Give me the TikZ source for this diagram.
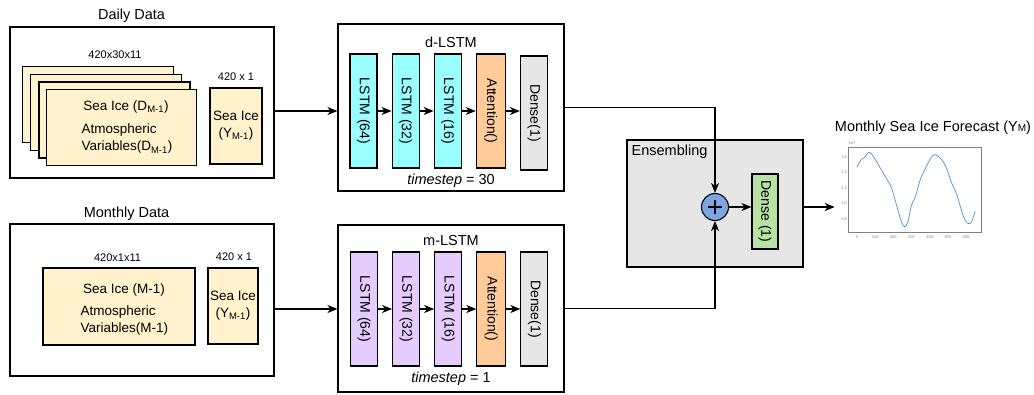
\documentclass[tikz,border=0pt]{standalone}
\usepackage{fontspec}
\setmainfont{Liberation Sans}
\usepackage{xcolor}
\usetikzlibrary{positioning, arrows.meta}

\definecolor{datayellow}{HTML}{FFF2CC}
\definecolor{lstmcyan}{HTML}{99FFFF}
\definecolor{lstmpurple}{HTML}{E5CCFF}
\definecolor{attnorange}{HTML}{FFCC99}
\definecolor{densegrey}{HTML}{E6E6E6}
\definecolor{densegreen}{HTML}{B9E0A5}
\definecolor{plusblue}{HTML}{7EA6E0}
\definecolor{curveblue}{HTML}{4A90D0}

\tikzset{
  frame/.style={draw, line width=1.1pt, inner sep=0pt},
  datbox/.style={draw, fill=datayellow, line width=1.1pt, inner sep=0pt},
  layer/.style={draw, line width=1.1pt, inner sep=0pt, minimum width=27pt, minimum height=114pt, font=\fontsize{14}{16}\selectfont},
  flow/.style={-{Stealth[length=10pt, width=8pt, inset=3pt]}, line width=1.1pt},
  big/.style={font=\fontsize{14.5}{17}\selectfont},
  mid/.style={font=\fontsize{13.5}{17}\selectfont},
  small/.style={font=\fontsize{11}{13}\selectfont},
  tick/.style={font=\fontsize{4}{4}\selectfont, text=gray, inner sep=0.5pt},
}

\begin{document}
\begin{tikzpicture}[x=1pt, y=-1pt, node distance=14pt]
\useasboundingbox (0,0) rectangle (1034,394);

% daily data
\node[frame, minimum width=264pt, minimum height=151pt] (daily) at (142,102.5) {};
\node[big] (daily-t) at (131.5,16) {Daily Data};
\foreach \i in {0,1,2}
  \node[datbox, minimum width=151pt, minimum height=76pt, anchor=north west] (dstack-\i) at (22+8.2*\i, 66+7.7*\i) {};
\node[datbox, minimum width=150pt, minimum height=76pt, anchor=north west] (dvars) at (46,89) {};
\node[mid] at (126,107) {Sea Ice (D\textsubscript{M-1})};
\node[mid, align=left, anchor=west] at (78,139) {Atmospheric\\Variables(D\textsubscript{M-1})};
\node[small] at (115,55) {420x30x11};
\node[datbox, mid, minimum width=52pt, minimum height=76pt, align=center] (dice) at (236,126) {Sea Ice\\(Y\textsubscript{M-1})};
\node[small] at (236,77) {420 x 1};

% monthly data
\node[frame, minimum width=264pt, minimum height=152pt] (monthly) at (142,300) {};
\node[big] (monthly-t) at (126.5,214) {Monthly Data};
\node[datbox, minimum width=152pt, minimum height=77pt] (mvars) at (119,306.5) {};
\node[mid] at (124,290) {Sea Ice (M-1)};
\node[mid, align=left, anchor=west] at (77,321) {Atmospheric\\Variables(M-1)};
\node[small] at (117.5,258) {420x1x11};
\node[datbox, mid, minimum width=50pt, minimum height=76pt, align=center] (mice) at (233,306) {Sea Ice\\(Y\textsubscript{M-1})};
\node[small] at (234,257) {420 x 1};

% d-LSTM
\node[frame, minimum width=226pt, minimum height=167pt] (dlstm) at (451,107.5) {};
\node[big] at (451,42) {d-LSTM};
\node[layer, fill=lstmcyan] (d64) at (363.5,111) {\rotatebox{-90}{LSTM (64)}};
\node[layer, fill=lstmcyan, right=of d64] (d32) {\rotatebox{-90}{LSTM (32)}};
\node[layer, fill=lstmcyan, right=of d32] (d16) {\rotatebox{-90}{LSTM (16)}};
\node[layer, fill=attnorange, minimum width=29pt, right=of d16] (datt) {\rotatebox{-90}{Attention()}};
\node[layer, fill=densegrey, right=of datt, yshift=-2pt] (dden) {\rotatebox{-90}{Dense(1)}};
\node[big] at (451,181) {\textit{timestep} = 30};
\draw[flow] (d64) -- (d32);
\draw[flow] (d32) -- (d16);
\draw[flow] (d16) -- (datt);
\draw[flow] (datt) -- (datt -| dden.west);

% m-LSTM
\node[frame, minimum width=226pt, minimum height=167pt] (mlstm) at (451,308.5) {};
\node[big] at (451,241) {m-LSTM};
\node[layer, fill=lstmpurple] (m64) at (364,309) {\rotatebox{-90}{LSTM (64)}};
\node[layer, fill=lstmpurple, right=of m64] (m32) {\rotatebox{-90}{LSTM (32)}};
\node[layer, fill=lstmpurple, right=of m32] (m16) {\rotatebox{-90}{LSTM (16)}};
\node[layer, fill=attnorange, minimum width=29pt, right=of m16] (matt) {\rotatebox{-90}{Attention()}};
\node[layer, fill=densegrey, right=of matt] (mden) {\rotatebox{-90}{Dense(1)}};
\node[big] at (451,379) {\textit{timestep} = 1};
\draw[flow] (m64) -- (m32);
\draw[flow] (m32) -- (m16);
\draw[flow] (m16) -- (matt);
\draw[flow] (matt) -- (mden);

% inputs into the models
\draw[flow] (daily.east |- d64) -- (d64 -| dlstm.west);
\draw[flow] (monthly.east |- m64) -- (m64 -| mlstm.west);

% ensembling
\node[frame, fill=densegrey, minimum width=176pt, minimum height=127pt] (ens) at (715,203.5) {};
\node[big, anchor=north west, inner sep=5pt] at (ens.north west) {Ensembling};
\node[circle, draw, fill=plusblue, line width=1.1pt, minimum size=27pt,
  path picture={\draw[line width=1.8pt] (path picture bounding box.center) +(-7pt,0) -- +(7pt,0)
                (path picture bounding box.center) +(0,-7pt) -- +(0,7pt);}] (plus) at (715,207) {};
\node[layer, fill=densegreen, minimum width=26pt, minimum height=75pt] (eden) at (765,211.5) {\rotatebox{-90}{Dense (1)}};
\draw[flow] (plus) -- (plus -| eden.west);
\draw[flow] (dlstm.east) -| (plus.north);
\draw[flow] (mlstm.east) -| (plus.south);

% forecast
\node[big] (fc-t) at (933,128) {Monthly Sea Ice Forecast (Y{\fontsize{10}{10}\selectfont M})};
\node[draw=gray, line width=0.6pt, minimum width=133pt, minimum height=85pt, inner sep=0pt] (fcast) at (914.5,189.5) {};
\draw[flow, shorten >=13pt] (ens.east |- plus) -- (fcast.west |- plus);
\node[tick] at (852,143.5) {1e7};
\begin{scope}[shift={(857,281)}, x=0.1817pt, y=77.5pt]
  \foreach \v in {0.8,1.0,1.2,1.4,1.6}
    \node[tick, anchor=east] at (-52,\v) {\v};
  \foreach \t in {0,100,...,600}
    \node[tick] at (\t,0.565) {\t};
  \draw[curveblue, line width=0.7pt] plot[smooth, tension=0.5] coordinates {
    (0,1.47) (10,1.52) (25,1.57) (40,1.59) (52,1.63) (65,1.66) (80,1.64)
    (100,1.57) (130,1.45) (160,1.33) (190,1.20) (220,0.96) (245,0.76)
    (262,0.70) (280,0.76) (300,0.98) (320,1.08) (350,1.32) (380,1.47)
    (410,1.60) (430,1.63) (460,1.58) (490,1.47) (520,1.27) (550,1.11)
    (580,0.87) (600,0.77) (615,0.74) (632,0.77) (650,0.90)};
\end{scope}
\end{tikzpicture}
\end{document}
